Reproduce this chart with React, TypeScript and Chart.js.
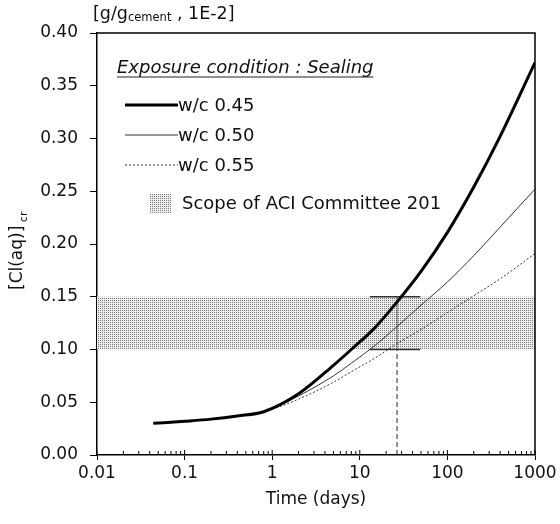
import React, { useEffect, useRef } from "react";
import { Chart, registerables } from "chart.js";

Chart.register(...registerables);

// ---- data ----
const TIMES = [0.044, 0.1, 0.2, 0.4, 0.8, 2, 5, 8, 15, 26, 50, 100, 200, 400, 1000];
const WC045 = [0.030, 0.032, 0.034, 0.037, 0.041, 0.058, 0.085, 0.100, 0.121, 0.144, 0.174, 0.211, 0.254, 0.302, 0.372];
const WC050 = [0.030, 0.032, 0.034, 0.037, 0.041, 0.056, 0.075, 0.087, 0.104, 0.121, 0.142, 0.164, 0.189, 0.216, 0.252];
const WC055 = [0.030, 0.032, 0.034, 0.037, 0.041, 0.053, 0.069, 0.079, 0.092, 0.105, 0.119, 0.135, 0.151, 0.167, 0.191];
const SERIES_LABELS = ["w/c 0.45", "w/c 0.50", "w/c 0.55"];
const ACI_RANGE = [0.10, 0.15];
const ACI_SPAN_T = [0.01, 1000];
const WHISKER_T = [13, 49];
const MARK_T = 26.6;
const X_TICKS = [0.01, 0.1, 1, 10, 100, 1000];
const X_TICK_LABELS = ["0.01", "0.1", "1", "10", "100", "1000"];
const MINOR_STEPS = [2, 3, 4, 5, 6, 7, 8, 9];
const LEGEND_TITLE = "Exposure condition : Sealing";
const BAND_LABEL = "Scope of ACI Committee 201";
const X_TITLE = "Time (days)";

const FONT = "'DejaVu Sans', Verdana, sans-serif";
const FS = 17;
const LFS = 18;

function makePattern(): CanvasPattern | string {
  const c = document.createElement("canvas");
  c.width = 2;
  c.height = 2;
  const g = c.getContext("2d");
  if (!g) return "#d0d0d0";
  g.fillStyle = "#ededed";
  g.fillRect(0, 0, 2, 2);
  g.fillStyle = "#7a7a7a";
  g.fillRect(0, 0, 1, 1);
  const p = g.createPattern(c, "repeat");
  return p || "#d0d0d0";
}

const decorPlugin = {
  id: "decor",
  afterDraw(chart: any) {
    const ctx = chart.ctx;
    const area = chart.chartArea;
    const xs = chart.scales.x;
    ctx.save();
    // frame
    ctx.strokeStyle = "#000";
    ctx.lineWidth = 1.5;
    ctx.beginPath();
    ctx.moveTo(area.left, area.top);
    ctx.lineTo(area.right, area.top);
    ctx.lineTo(area.right, area.bottom);
    ctx.stroke();
    // minor x ticks, inward
    ctx.lineWidth = 1;
    ctx.beginPath();
    for (let d = 0; d < X_TICKS.length - 1; d++) {
      for (const m of MINOR_STEPS) {
        const px = xs.getPixelForValue(X_TICKS[d] * m);
        ctx.moveTo(px, area.bottom);
        ctx.lineTo(px, area.bottom - 4);
      }
    }
    for (const v of X_TICKS) {
      const px = xs.getPixelForValue(v);
      ctx.moveTo(px, area.bottom);
      ctx.lineTo(px, area.bottom - 5);
    }
    ctx.stroke();

    // top-left unit label
    ctx.fillStyle = "#111";
    ctx.textBaseline = "alphabetic";
    ctx.textAlign = "left";
    ctx.font = `17.5px ${FONT}`;
    let x = 93;
    const yb = 19;
    const part1 = "[g/g";
    ctx.fillText(part1, x, yb);
    x += ctx.measureText(part1).width;
    ctx.font = `11.5px ${FONT}`;
    ctx.fillText("cement", x, yb + 2);
    x += ctx.measureText("cement").width;
    ctx.font = `17.5px ${FONT}`;
    ctx.fillText(" , 1E-2]", x, yb);

    // y title rotated
    ctx.save();
    ctx.translate(22, 290);
    ctx.rotate(-Math.PI / 2);
    ctx.font = `${FS}px ${FONT}`;
    ctx.fillText("[Cl(aq)]", 0, 0);
    const w = ctx.measureText("[Cl(aq)]").width;
    ctx.font = `11px ${FONT}`;
    ctx.fillText(" cr", w, 5);
    ctx.restore();

    // legend
    ctx.font = `italic ${LFS}px ${FONT}`;
    ctx.fillText(LEGEND_TITLE, 117, 73);
    const tw = ctx.measureText(LEGEND_TITLE).width;
    ctx.lineWidth = 1;
    ctx.strokeStyle = "#222";
    ctx.beginPath();
    ctx.moveTo(117, 77);
    ctx.lineTo(117 + tw, 77);
    ctx.stroke();

    const ds = chart.data.datasets;
    const rows = [105, 135, 165];
    ctx.font = `${LFS}px ${FONT}`;
    ctx.textBaseline = "middle";
    for (let i = 0; i < 3; i++) {
      const d = ds[i + 1];
      ctx.strokeStyle = d.borderColor;
      ctx.lineWidth = d.borderWidth;
      ctx.setLineDash(d.borderDash || []);
      ctx.beginPath();
      ctx.moveTo(125, rows[i]);
      ctx.lineTo(178, rows[i]);
      ctx.stroke();
      ctx.setLineDash([]);
      ctx.fillStyle = "#111";
      ctx.fillText(SERIES_LABELS[i], 178, rows[i] + 1);
    }
    ctx.fillStyle = ds[0].backgroundColor;
    ctx.fillRect(150, 194, 21, 19);
    ctx.fillStyle = "#111";
    ctx.fillText(BAND_LABEL, 182, 204);
    ctx.restore();
  },
};

export default function App() {
  const ref = useRef<HTMLCanvasElement | null>(null);
  useEffect(() => {
    if (!ref.current) return;
    const pattern = makePattern();
    const pts = (ys: number[]) => TIMES.map((t, i) => ({ x: t, y: ys[i] }));
    const chart = new Chart(ref.current, {
      type: "line",
      data: {
        datasets: [
          {
            label: "band-low",
            data: ACI_SPAN_T.map((t) => ({ x: t, y: ACI_RANGE[0] })),
            borderWidth: 0,
            borderColor: "rgba(0,0,0,0)",
            backgroundColor: pattern as any,
            pointRadius: 0,
            fill: { value: ACI_RANGE[1] } as any,
            order: 10,
          },
          {
            label: SERIES_LABELS[0],
            data: pts(WC045),
            borderColor: "#000",
            borderWidth: 3,
            pointRadius: 0,
            cubicInterpolationMode: "monotone",
            fill: false,
          },
          {
            label: SERIES_LABELS[1],
            data: pts(WC050),
            borderColor: "#333",
            borderWidth: 1,
            pointRadius: 0,
            cubicInterpolationMode: "monotone",
            fill: false,
          },
          {
            label: SERIES_LABELS[2],
            data: pts(WC055),
            borderColor: "#333",
            borderWidth: 1,
            borderDash: [2, 2],
            pointRadius: 0,
            cubicInterpolationMode: "monotone",
            fill: false,
          },
          {
            label: "whisker-high",
            data: WHISKER_T.map((t) => ({ x: t, y: ACI_RANGE[1] })),
            borderColor: "#333",
            borderWidth: 1.5,
            pointRadius: 0,
            fill: false,
          },
          {
            label: "whisker-low",
            data: WHISKER_T.map((t) => ({ x: t, y: ACI_RANGE[0] })),
            borderColor: "#333",
            borderWidth: 1.5,
            pointRadius: 0,
            fill: false,
          },
          {
            label: "mark-solid",
            data: ACI_RANGE.map((v) => ({ x: MARK_T, y: v })),
            borderColor: "#555",
            borderWidth: 1,
            pointRadius: 0,
            fill: false,
          },
          {
            label: "mark-dashed",
            data: [0, ACI_RANGE[0]].map((v) => ({ x: MARK_T, y: v })),
            borderColor: "#222",
            borderWidth: 1,
            borderDash: [5, 3],
            pointRadius: 0,
            fill: false,
          },
        ],
      },
      options: {
        animation: false,
        responsive: true,
        maintainAspectRatio: false,
        layout: { padding: { left: 0, right: 25, top: 33, bottom: 0 } },
        plugins: {
          legend: { display: false },
          tooltip: { enabled: false },
          title: { display: false },
        },
        scales: {
          x: {
            type: "logarithmic",
            min: X_TICKS[0],
            max: X_TICKS[X_TICKS.length - 1],
            afterBuildTicks: (s: any) => {
              s.ticks = X_TICKS.map((v) => ({ value: v, major: true }));
            },
            afterFit: (s: any) => {
              s.height = 69;
            },
            ticks: {
              autoSkip: false,
              maxRotation: 0,
              color: "#111",
              font: { family: FONT, size: FS },
              padding: 3,
              callback: (v: any) => {
                const i = X_TICKS.indexOf(Number(v));
                return i >= 0 ? X_TICK_LABELS[i] : "";
              },
            },
            grid: {
              display: true,
              drawOnChartArea: false,
              drawTicks: true,
              tickLength: 5,
              color: "#000",
            },
            border: { display: true, color: "#000", width: 1.5 },
            title: {
              display: true,
              text: X_TITLE,
              color: "#111",
              font: { family: FONT, size: FS },
              padding: { top: 4, bottom: 14 },
            },
          },
          y: {
            type: "linear",
            min: 0,
            max: 0.4,
            afterFit: (s: any) => {
              s.width = 97;
            },
            ticks: {
              stepSize: 0.05,
              color: "#111",
              font: { family: FONT, size: FS },
              padding: 12,
              callback: (v: any) => Number(v).toFixed(2),
            },
            grid: {
              display: true,
              drawOnChartArea: false,
              drawTicks: true,
              tickLength: 7,
              color: "#000",
            },
            border: { display: true, color: "#000", width: 1.5 },
          },
        },
      },
      plugins: [decorPlugin],
    });
    return () => chart.destroy();
  }, []);
  return (
    <div style={{ position: "fixed", left: 0, top: 0, width: 560, height: 524, background: "#fff" }}>
      <canvas ref={ref} />
    </div>
  );
}
